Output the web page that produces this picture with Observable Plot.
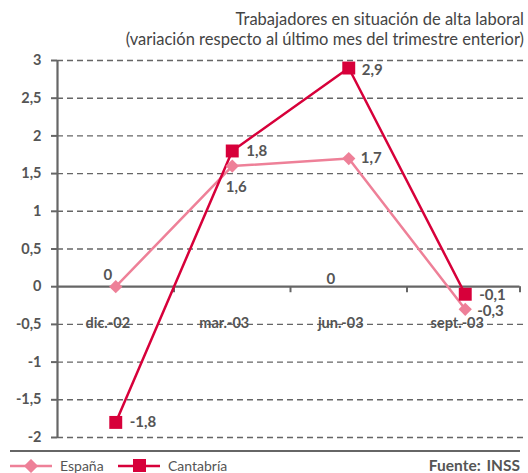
<!DOCTYPE html>
<html>
<head>
<meta charset="utf-8">
<script src="https://cdn.jsdelivr.net/npm/d3@7"></script>
<script src="https://cdn.jsdelivr.net/npm/@observablehq/plot@0.6"></script>
<style>
  html, body { margin: 0; padding: 0; background: #fff; }
  #wrap { position: relative; width: 528px; height: 473px; font-family: Lato, "Open Sans", sans-serif; color: #555; }
  #title { position: absolute; right: 4px; top: 9px; text-align: right; font-size: 16.5px; line-height: 20px; color: #444; }
  #footer { position: absolute; left: 10px; right: 8px; top: 450px; border-top: 2px solid #666; height: 22px; }
  .leg { position: absolute; top: 5px; font-size: 14px; color: #555; display: flex; align-items: center; }
  #src { position: absolute; right: 0; top: 4px; font-size: 15.5px; font-weight: bold; color: #555; word-spacing: 2px; }
</style>
</head>
<body>
<div id="wrap">
  <div id="chart"></div>
  <div id="title"></div>
  <div id="footer"></div>
</div>
<script>
const categories = ["dic.-02", "mar.-03", "jun.-03", "sept.-03"];
const espana = [0, 1.6, 1.7, -0.3];
const cantabria = [-1.8, 1.8, 2.9, -0.1];
const yTicks = [-2, -1.5, -1, -0.5, 0, 0.5, 1, 1.5, 2, 2.5, 3];
const seriesNames = ["España", "Cantabría"];
const titleLines = ["Trabajadores en situación de alta laboral", "(variación respecto al último mes del trimestre enterior)"];
const sourceText = "Fuente: INSS";

const colEsp = "#ee8098";
const colCan = "#d7003a";
const fmt = d => String(d).replace(".", ",");

const esp = categories.map((c, i) => ({i, v: espana[i]}));
const can = categories.map((c, i) => ({i, v: cantabria[i]}));

const espLabelOffsets = [{dx: -8, dy: -12, a: "middle"}, {dx: 4, dy: 21, a: "middle"}, {dx: 12, dy: 0, a: "start"}, {dx: 12, dy: 2, a: "start"}];
const canLabelOffsets = [{dx: 14, dy: 0}, {dx: 14, dy: 0}, {dx: 13, dy: 2}, {dx: 14, dy: 1}];

const labelStyle = {fontSize: 15, fontWeight: "bold", fill: "#555"};

const marks = [
  Plot.ruleY(yTicks.filter(d => d !== 0), {stroke: "#666", strokeWidth: 1.4, strokeDasharray: "6,4"}),
  Plot.ruleY([0], {x1: -0.5, x2: 3.47, stroke: "#666", strokeWidth: 2.2}),
  Plot.ruleX([0.5, 1.5, 2.5, 3.47], {y1: 0, y2: -0.08, stroke: "#666", strokeWidth: 2}),
  Plot.ruleX([-0.5], {y1: -2, y2: 3, stroke: "#666", strokeWidth: 2.2}),
  Plot.axisY(yTicks, {label: null, tickFormat: fmt, tickSize: 6, tickPadding: 10, stroke: "#666", strokeWidth: 2, fill: "#555", fontSize: 14.5, fontWeight: "bold"}),
  Plot.text(categories, {x: (d, i) => i, y: 0, text: d => d, dx: -8, dy: 37, ...labelStyle, fontSize: 14.5}),
  Plot.line(esp, {x: "i", y: "v", stroke: colEsp, strokeWidth: 2.5}),
  Plot.line(can, {x: "i", y: "v", stroke: colCan, strokeWidth: 2.5}),
  Plot.dot(esp, {x: "i", y: "v", symbol: "square", r: 5.3, rotate: 45, fill: colEsp, stroke: "none"}),
  Plot.dot(can, {x: "i", y: "v", symbol: "square", r: 7.3, fill: colCan, stroke: "none"}),
  ...esp.map((d, k) => Plot.text([d], {x: "i", y: "v", text: d => fmt(d.v), dx: espLabelOffsets[k].dx, dy: espLabelOffsets[k].dy, textAnchor: espLabelOffsets[k].a, ...labelStyle})),
  ...can.map((d, k) => Plot.text([d], {x: "i", y: "v", text: d => fmt(d.v), dx: canLabelOffsets[k].dx, dy: canLabelOffsets[k].dy, textAnchor: "start", ...labelStyle})),
  Plot.text([{i: 2, v: 0}], {x: "i", y: "v", text: () => "0", dx: -18, dy: -8, ...labelStyle})
];

const chart = Plot.plot({
  width: 528,
  height: 473,
  marginTop: 60,
  marginBottom: 36,
  marginLeft: 57,
  marginRight: 5,
  x: {domain: [-0.5, 3.5], axis: null},
  y: {domain: [-2, 3], axis: null},
  style: {fontFamily: "Lato, 'Open Sans', sans-serif", background: "white"},
  marks
});
document.getElementById("chart").appendChild(chart);

document.getElementById("title").innerHTML = titleLines.join("<br>");

const footer = document.getElementById("footer");
function legendItem(left, name, color, shape) {
  const el = document.createElement("div");
  el.className = "leg";
  el.style.left = left + "px";
  const sym = shape === "diamond"
    ? `<svg width="44" height="14"><line x1="0" y1="7" x2="42" y2="7" stroke="${color}" stroke-width="2.5"/><rect x="16" y="2" width="10" height="10" fill="${color}" transform="rotate(45 21 7)"/></svg>`
    : `<svg width="44" height="14"><line x1="0" y1="7" x2="42" y2="7" stroke="${color}" stroke-width="2.5"/><rect x="15" y="0" width="13" height="13" fill="${color}"/></svg>`;
  el.innerHTML = sym + `<span style="margin-left:6px">${name}</span>`;
  footer.appendChild(el);
}
legendItem(0, seriesNames[0], colEsp, "diamond");
legendItem(108, seriesNames[1], colCan, "square");
const src = document.createElement("div");
src.id = "src";
src.textContent = sourceText;
footer.appendChild(src);
</script>
</body>
</html>
